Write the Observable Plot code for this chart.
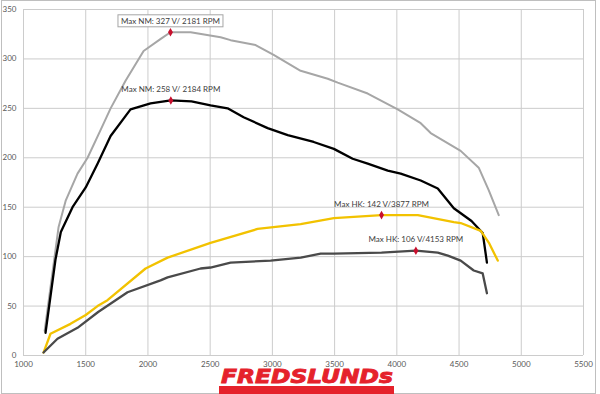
<!DOCTYPE html>
<html>
<head>
<meta charset="utf-8">
<script src="https://cdn.jsdelivr.net/npm/d3@7"></script>
<script src="https://cdn.jsdelivr.net/npm/@observablehq/plot@0.6"></script>
<style>
  html, body { margin: 0; padding: 0; background: #fff; }
  #wrap { position: relative; width: 600px; height: 394px; overflow: hidden; }
  #frame { position: absolute; left: 1px; top: 0px; width: 593px; height: 392px; border: 1px solid #bfbfbf; pointer-events: none; z-index: 1; }
  #chart { position: absolute; left: 0; top: 0; }
  #logo { position: absolute; left: 221px; top: 365px; white-space: nowrap; z-index: 2; }
  #logoText { display: inline-block; font-family: "DejaVu Sans", sans-serif; font-weight: bold; font-style: italic; font-size: 20px; line-height: 22px; color: #e5222b; -webkit-text-stroke: 0.9px #e5222b; transform-origin: 0 0; }
  #logoBar { position: absolute; left: 219px; top: 386px; width: 175px; height: 8px; background-color: #e5222b; z-index: 3; }
</style>
</head>
<body>
<div id="wrap">
  <div id="chart"></div>
  <div id="logo"><span id="logoText">FREDSLUNDs</span></div>
  <div id="logoBar"></div>
  <div id="frame"></div>
</div>
<script>
// ---- data ----
const xTicks = [1000, 1500, 2000, 2500, 3000, 3500, 4000, 4500, 5000, 5500];
const yTicks = [0, 50, 100, 150, 200, 250, 300, 350];

// light gray torque curve (max 327 Nm)
const torqueGrayRpm = [1170,1282,1340,1434,1515,1619,1700,1820,1965,2100,2181,2343,2584,2664,2865,3010,3227,3445,3525,3766,4007,4192,4272,4513,4658,4739,4819];
const torqueGray    = [25,130,157,184,200,228,250,278,308,320,327,327,322,319,314,304,288,280,276,265,249,235,225,207,190,167,142];

// black torque curve (max 258 Nm)
const torqueBlackRpm = [1177,1257,1300,1394,1500,1595,1700,1860,2021,2184,2350,2503,2640,2769,2962,3123,3332,3494,3645,3766,3927,4031,4192,4329,4458,4600,4690,4724];
const torqueBlack    = [23,97,125,150,170,194,222,249,255,258,257,253,250,241,230,223,216,209,199,194,187,184,177,169,149,136,124,94];

// yellow power curve (max 142 hk)
const powerYellowRpm = [1161,1217,1378,1500,1595,1675,1981,2158,2503,2881,3227,3494,3877,4031,4169,4458,4513,4675,4740,4811];
const powerYellow    = [3,22,32,41,50,56,88,99,114,128,133,139,142,142,142,135,134,126,114,96];

// dark gray power curve (max 106 hk)
const powerDarkRpm = [1161,1273,1434,1600,1836,2101,2158,2423,2503,2664,2986,3228,3388,3494,3877,4153,4329,4410,4513,4618,4690,4724];
const powerDark    = [3,17,28,44,64,76,79,88,89,94,96,99,103,103,104,106,104,101,96,86,83,63];

// maxima annotations
const maxRpm    = [2181, 2184, 3877, 4153];
const maxValue  = [327, 258, 142, 106];
const maxLabels = ["Max NM: 327 V/ 2181 RPM", "Max NM: 258 V/ 2184 RPM", "Max HK: 142 V/3877 RPM", "Max HK: 106 V/4153 RPM"];
const maxBoxed  = [true, false, false, false];

// ---- build tables ----
const toRows = (xs, ys) => xs.map((x, i) => ({rpm: x, v: ys[i]}));
const gray = toRows(torqueGrayRpm, torqueGray);
const black = toRows(torqueBlackRpm, torqueBlack);
const yellow = toRows(powerYellowRpm, powerYellow);
const dark = toRows(powerDarkRpm, powerDark);
const maxima = maxRpm.map((r, i) => ({rpm: r, v: maxValue[i], label: maxLabels[i], boxed: maxBoxed[i]}));

const chart = Plot.plot({
  width: 600,
  height: 372,
  marginLeft: 23,
  marginRight: 17,
  marginTop: 9,
  marginBottom: 17,
  style: {fontFamily: "Lato, 'Open Sans', sans-serif", fontSize: "8px", color: "#595959", background: "transparent"},
  x: {domain: [1000, 5500], label: null},
  y: {domain: [0, 350], label: null},
  marks: [
    Plot.gridX(xTicks, {stroke: "#cccccc", strokeOpacity: 1}),
    Plot.gridY(yTicks, {stroke: "#cccccc", strokeOpacity: 1}),
    Plot.axisX({ticks: xTicks, tickSize: 0, tickPadding: 6, tickFormat: d => String(d), fill: "#595959", label: null}),
    Plot.axisY({ticks: yTicks, tickSize: 0, tickPadding: 7, tickFormat: d => String(d), fill: "#595959", label: null}),
    Plot.line(gray, {x: "rpm", y: "v", stroke: "#a6a6a6", strokeWidth: 2}),
    Plot.line(black, {x: "rpm", y: "v", stroke: "#000000", strokeWidth: 2.3}),
    Plot.line(yellow, {x: "rpm", y: "v", stroke: "#f2c200", strokeWidth: 2.3}),
    Plot.line(dark, {x: "rpm", y: "v", stroke: "#4a4a4a", strokeWidth: 2.3}),
    Plot.dot(maxima, {x: "rpm", y: "v", symbol: "diamond", r: 2.6, fill: "#c8102e", stroke: "none"}),
    Plot.text(maxima, {x: "rpm", y: "v", text: "label", dy: -11, fill: "#404040", fontSize: 8})
  ]
});
document.getElementById("chart").appendChild(chart);

// draw a box behind the boxed label(s), sized from the rendered text
const boxedSet = new Set(maxima.filter(d => d.boxed).map(d => d.label));
d3.select(chart).selectAll("text").each(function() {
  if (boxedSet.has(this.textContent)) {
    const b = this.getBBox();
    const parent = this.parentNode;
    const ctm = this.getAttribute("transform");
    const rect = document.createElementNS("http://www.w3.org/2000/svg", "rect");
    rect.setAttribute("x", b.x - 3);
    rect.setAttribute("y", b.y - 1);
    rect.setAttribute("width", b.width + 6);
    rect.setAttribute("height", b.height + 2);
    rect.setAttribute("fill", "#ffffff");
    rect.setAttribute("stroke", "#a6a6a6");
    rect.setAttribute("stroke-width", 1);
    if (ctm) rect.setAttribute("transform", ctm);
    parent.insertBefore(rect, this);
  }
});

// fit the logo text to the reference width
const lt = document.getElementById("logoText");
const target = 172;
const s = target / lt.offsetWidth;
lt.style.transform = `scaleX(${s})`;
</script>
</body>
</html>
